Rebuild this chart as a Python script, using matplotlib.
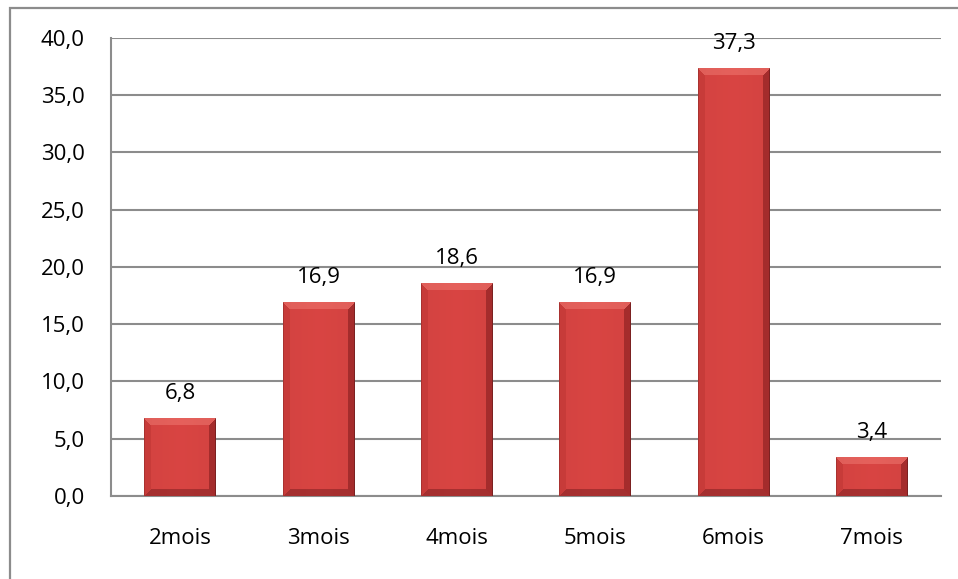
import numpy as np
import matplotlib.pyplot as plt
from matplotlib.patches import Rectangle
from matplotlib.ticker import FuncFormatter

categories = ['2mois', '3mois', '4mois', '5mois', '6mois', '7mois']
values = [6.8, 16.9, 18.6, 16.9, 37.3, 3.4]
yticks = [0, 5, 10, 15, 20, 25, 30, 35, 40]

plt.rcParams['font.family'] = ['Open Sans', 'DejaVu Sans']
FS = 16

fig = plt.figure(figsize=(9.58, 5.79), dpi=100)
ax = fig.add_axes([0.1159, 0.1434, 0.8664, 0.791])

# outer chart frame (only left/top edges fall inside the image)
fig.patches.append(Rectangle((9.5 / 958, -0.1), 1.2, 1 - 7.5 / 579 + 0.1,
                             transform=fig.transFigure, fill=False,
                             edgecolor='#8c8c8c', linewidth=1.6))

bar_w = 0.52
x = np.arange(len(categories))
ax.set_xlim(-0.5, len(categories) - 0.5)
ax.set_ylim(0, 40)

face = np.array([0.85, 0.27, 0.26])
top_c = np.array([0.90, 0.38, 0.36])
right_c = np.array([0.66, 0.18, 0.18])
bottom_c = np.array([0.66, 0.19, 0.19])
left_c = np.array([0.80, 0.24, 0.23])


def bevel_image(w_px, h_px, b=7):
    # pixel image of a bevelled bar: light top, dark right/bottom edges
    w_px = max(int(round(w_px)), 2)
    h_px = max(int(round(h_px)), 2)
    img = np.tile(face, (h_px, w_px, 1))
    yy, xx = np.mgrid[0:h_px, 0:w_px]
    dl = xx
    dr = w_px - 1 - xx
    dt = yy
    db = h_px - 1 - yy
    dmin = np.minimum(np.minimum(dl, dr), np.minimum(dt, db))
    edge = dmin < b
    img[edge & (dt == dmin)] = top_c
    img[edge & (dl == dmin) & (dt != dmin)] = left_c
    img[edge & (dr == dmin) & (dt != dmin)] = right_c
    img[edge & (db == dmin) & (dl != dmin) & (dr != dmin)] = bottom_c
    # thin dark outline on the sides
    img[:, 0] *= 0.85
    img[:, -1] *= 0.75
    # slight darkening across the face
    shade = 1 - 0.05 * np.abs(xx / w_px - 0.5)
    img = img * shade[..., None]
    return np.clip(img, 0, 1)


fig.canvas.draw()
px_per_x = ax.transData.transform((1, 0))[0] - ax.transData.transform((0, 0))[0]
px_per_y = ax.transData.transform((0, 1))[1] - ax.transData.transform((0, 0))[1]

for xi, v in zip(x, values):
    img = bevel_image(bar_w * px_per_x, v * px_per_y)
    ax.imshow(img, extent=(xi - bar_w / 2, xi + bar_w / 2, 0, v),
              aspect='auto', interpolation='bilinear', zorder=3)
    ax.annotate(f'{v:.1f}'.replace('.', ','), (xi, v), xytext=(0, 14),
                textcoords='offset points', ha='center', va='baseline',
                fontsize=FS, color='black', zorder=4)

ax.set_xlim(-0.5, len(categories) - 0.5)
ax.set_ylim(0, 40)
ax.set_xticks(x)
ax.set_xticklabels(categories)
ax.set_yticks(yticks)
ax.yaxis.set_major_formatter(FuncFormatter(lambda v, p: f'{v:.1f}'.replace('.', ',')))
ax.tick_params(axis='both', length=0, labelsize=FS)
ax.tick_params(axis='y', pad=19)
ax.tick_params(axis='x', pad=23)

ax.grid(axis='y', color='#8c8c8c', linewidth=1.5, zorder=0)
ax.set_axisbelow(True)
for side in ['top', 'right']:
    ax.spines[side].set_visible(False)
for side in ['left', 'bottom']:
    ax.spines[side].set_color('#8c8c8c')
    ax.spines[side].set_linewidth(1.5)

fig.savefig('out.png', dpi=100)
